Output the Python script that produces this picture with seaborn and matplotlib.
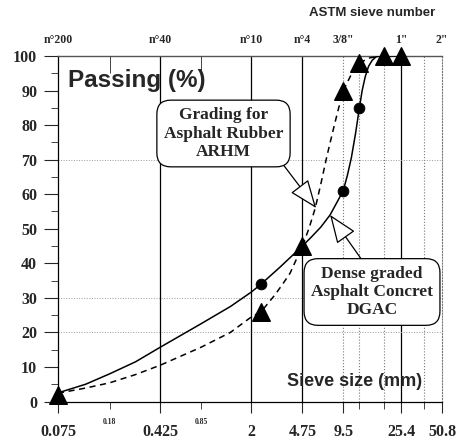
import matplotlib
matplotlib.use("Agg")
import matplotlib.pyplot as plt
import pandas as pd
import seaborn as sns
from matplotlib.ticker import FixedLocator, FixedFormatter, NullFormatter

# %% data
# curve of the dense graded mix (DGAC), solid line
dgac_size = [0.075, 0.12, 0.18, 0.28, 0.425, 0.85, 1.4, 2.0, 2.36, 3.25, 4.75, 5.5, 6.5, 7.6, 8.5, 9.5,
             10.2, 10.9, 11.7, 12.5, 13.1, 13.8, 14.6, 15.5, 16.5, 17.5, 25.4]
dgac_pass = [2.5, 5.0, 8.0, 11.5, 15.7, 22.5, 27.5, 31.7, 34, 38.9, 45, 47.5, 50.5, 54, 57.5, 61,
             65.5, 70.5, 77.5, 85, 90, 94, 97, 98.7, 99.7, 100, 100]
# curve of the asphalt rubber mix (ARHM), dashed line
arhm_size = [0.075, 0.12, 0.18, 0.28, 0.425, 0.85, 1.4, 2.0, 2.36, 3.0, 3.4, 3.85, 4.75, 5.3, 5.9, 6.5,
             7.2, 8.0, 8.6, 9.5, 11.0, 12.5, 15.0, 19.0]
arhm_pass = [2.4, 3.9, 5.4, 7.8, 10.5, 15.7, 20.0, 24.5, 26, 31, 34, 37.1, 45, 50, 55.9, 63,
             71, 78.5, 83.5, 90, 95, 98, 99.5, 100]

# measured points
dgac_mark_size = [2.36, 9.5, 12.5]
dgac_mark_pass = [34, 61, 85]
arhm_mark_size = [0.075, 2.36, 4.75, 9.5, 12.5, 19.0, 25.4]
arhm_mark_pass = [2, 26, 45, 90, 98, 100, 100]

sieve_mm = [0.075, 0.425, 2, 4.75, 9.5, 25.4, 50.8]
sieve_mm_labels = ["0.075", "0.425", "2", "4.75", "9.5", "25.4", "50.8"]
astm_labels = ["n°200", "n°40", "n°10", "n°4", '3/8"', '1"', '2"']
minor_mm = [0.18, 0.85, 12.5, 19, 37.5]
minor_mm_labels = ["0.18", "0.85", "", "", ""]

solid_lines = [0.425, 2, 4.75, 25.4]
dotted_lines = [9.5, 12.5, 19, 37.5]
grid_y = [20, 30, 70]

# %% plot
sns.set_style("white")
serif = ["Liberation Serif", "DejaVu Serif"]
sans = ["Liberation Sans", "DejaVu Sans"]

fig = plt.figure(figsize=(4.58, 4.43), dpi=100)
ax = fig.add_axes([58 / 458, 1 - 401.5 / 443, 384 / 458, 345.5 / 443])
ax.set_xscale("log")

for x in solid_lines:
    ax.axvline(x, color="black", lw=0.9, zorder=1)
for x in dotted_lines:
    ax.axvline(x, color="#777777", lw=0.8, ls=":", zorder=1)
for y in grid_y:
    ax.axhline(y, color="#999999", lw=0.7, ls=":", zorder=1)

dgac = pd.DataFrame({"size": dgac_size, "passing": dgac_pass})
arhm = pd.DataFrame({"size": arhm_size, "passing": arhm_pass})
sns.lineplot(data=dgac, x="size", y="passing", color="black", lw=1.1, sort=False, ax=ax, zorder=3)
sns.lineplot(data=arhm, x="size", y="passing", color="black", lw=1.1, sort=False, ax=ax, zorder=3,
             dashes=False, linestyle=(0, (4, 3)))
sns.scatterplot(x=dgac_mark_size, y=dgac_mark_pass, marker="o", s=60, color="black",
                edgecolor="black", ax=ax, zorder=4, clip_on=False)
sns.scatterplot(x=arhm_mark_size, y=arhm_mark_pass, marker="^", s=160, color="black",
                edgecolor="black", ax=ax, zorder=5, clip_on=False)

ax.set_xlim(0.075, 50.8)
ax.set_ylim(0, 100)
ax.set_xlabel("")
ax.set_ylabel("")

# bottom axis
ax.xaxis.set_major_locator(FixedLocator(sieve_mm))
ax.xaxis.set_major_formatter(FixedFormatter(sieve_mm_labels))
ax.xaxis.set_minor_locator(FixedLocator(minor_mm))
ax.xaxis.set_minor_formatter(FixedFormatter(minor_mm_labels))
ax.tick_params(axis="x", which="major", direction="out", length=8, width=0.8, pad=8,
               bottom=True, labelsize=11.5)
ax.tick_params(axis="x", which="minor", direction="out", length=5, width=0.6, pad=7,
               bottom=True, labelsize=5.5)
for lab in ax.get_xticklabels() + ax.get_xticklabels(minor=True):
    lab.set_family(serif)
    lab.set_fontweight("bold")

# left axis
ax.yaxis.set_major_locator(FixedLocator(range(0, 101, 10)))
ax.yaxis.set_minor_locator(FixedLocator(range(5, 100, 10)))
ax.yaxis.set_minor_formatter(NullFormatter())
ax.tick_params(axis="y", which="major", direction="out", length=10, width=0.8, pad=5,
               left=True, labelsize=11.5)
ax.tick_params(axis="y", which="minor", direction="out", length=5, width=0.6, left=True)
for lab in ax.get_yticklabels():
    lab.set_family(serif)
    lab.set_fontweight("bold")

for side in ["left", "bottom"]:
    ax.spines[side].set_color("black")
    ax.spines[side].set_linewidth(0.9)
ax.spines["top"].set_color("#555555")
ax.spines["top"].set_linewidth(1.0)
ax.spines["right"].set_color("#777777")
ax.spines["right"].set_linestyle(":")
ax.spines["right"].set_linewidth(0.8)

# top axis: ASTM sieve numbers
top = ax.twiny()
top.set_xscale("log")
top.set_xlim(ax.get_xlim())
top.xaxis.set_major_locator(FixedLocator(sieve_mm))
top.xaxis.set_major_formatter(FixedFormatter(astm_labels))
top.xaxis.set_minor_locator(FixedLocator([0.18, 0.85]))
top.xaxis.set_minor_formatter(NullFormatter())
top.tick_params(which="major", top=True, length=0, pad=7, labelsize=8.5)
top.tick_params(which="minor", top=True, bottom=False, direction="in", length=12, width=0.7,
                color="#444444")
for spine in top.spines.values():
    spine.set_visible(False)
for lab in top.get_xticklabels():
    lab.set_family(serif)
    lab.set_fontweight("bold")

fig.text(435 / 458, 1 - 13 / 443, "ASTM sieve number", ha="right", va="center",
         family=sans, fontweight="bold", fontsize=9.5)
fig.text(68 / 458, 1 - 80 / 443, "Passing (%)", ha="left", va="center",
         family=sans, fontweight="bold", fontsize=17.5)
fig.text(422 / 458, 1 - 381 / 443, "Sieve size (mm)", ha="right", va="center",
         family=sans, fontweight="bold", fontsize=13)

box = dict(boxstyle="round,pad=0.4,rounding_size=0.8", fc="white", ec="black", lw=0.9)
arrow = dict(arrowstyle="-|>,head_length=0.9,head_width=0.35", fc="white", ec="black",
             lw=0.9, mutation_scale=20, shrinkA=0, shrinkB=0)
ax.annotate("Grading for\nAsphalt Rubber\nARHM", xy=(6.0, 56), xycoords="data",
            xytext=(223.5, 443 - 133.5), textcoords="figure pixels",
            ha="center", va="center", family=serif, fontweight="bold", fontsize=12.5,
            linespacing=1.2, bbox=box, zorder=6,
            arrowprops=dict(arrow, relpos=(0.97, 0.0)))
ax.annotate("Dense graded\nAsphalt Concret\nDGAC", xy=(7.6, 54), xycoords="data",
            xytext=(372, 443 - 292), textcoords="figure pixels",
            ha="center", va="center", family=serif, fontweight="bold", fontsize=12.5,
            linespacing=1.2, bbox=box, zorder=6,
            arrowprops=dict(arrow, relpos=(0.45, 1.0)))

fig.savefig("out.png", dpi=100)
